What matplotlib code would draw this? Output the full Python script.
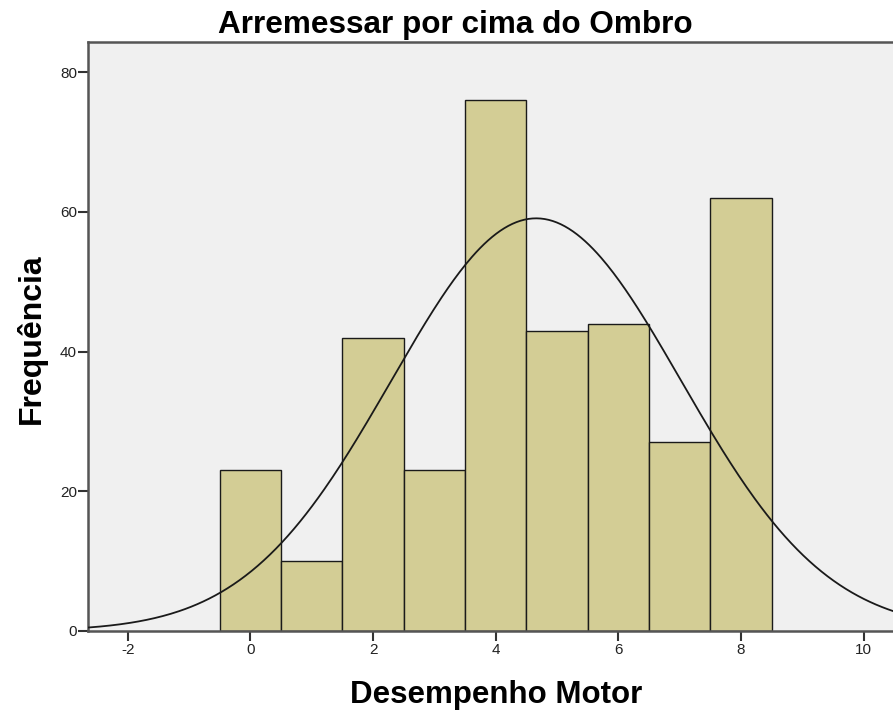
import numpy as np
import matplotlib.pyplot as plt

# dados do histograma
scores = [0, 1, 2, 3, 4, 5, 6, 7, 8]
counts = [23, 10, 42, 23, 76, 43, 44, 27, 62]
title = "Arremessar por cima do Ombro"
xlabel = "Desempenho Motor"
ylabel = "Frequência"
xticks = [-2, 0, 2, 4, 6, 8, 10]
yticks = [0, 20, 40, 60, 80]

plt.rcParams['font.family'] = ['Liberation Sans', 'DejaVu Sans']
plt.rcParams['axes.unicode_minus'] = False

fig = plt.figure(figsize=(8.93, 7.13), dpi=100)
ax = fig.add_axes([88 / 893, 1 - 631 / 713, 1 - 88 / 893, (631 - 42) / 713])
ax.set_facecolor('#f0f0f0')

ax.bar(scores, counts, width=1.0, color='#d3cd95', edgecolor='#1a1a1a', linewidth=1.0, zorder=2)

# curva normal ajustada
x = np.array(scores, dtype=float)
w = np.array(counts, dtype=float)
n = w.sum()
mu = (x * w).sum() / n
sd = np.sqrt(((x - mu) ** 2 * w).sum() / (n - 1))
xs = np.linspace(-2.65, 10.5, 400)
ys = n * 1.0 / (sd * np.sqrt(2 * np.pi)) * np.exp(-0.5 * ((xs - mu) / sd) ** 2)
ax.plot(xs, ys, color='#1a1a1a', linewidth=1.3, zorder=3)

ax.set_xlim(-2.65, 10.48)
ax.set_ylim(0, 84.3)
ax.set_xticks(xticks)
ax.set_yticks(yticks)
ax.tick_params(direction='out', length=7, width=1.5, color='#333333', labelcolor='#222222',
               labelsize=11, pad=2)
ax.tick_params(axis='y', pad=1)

for s in ['left', 'top', 'bottom']:
    ax.spines[s].set_color('#555555')
    ax.spines[s].set_linewidth(1.8)
ax.spines['right'].set_visible(False)

ax.set_xlabel(xlabel, fontsize=22.5, fontweight='bold')
ax.xaxis.set_label_coords(0.507, -0.1222)
ax.xaxis.label.set_va('baseline')
ax.set_ylabel(ylabel, fontsize=23, fontweight='bold')
ax.yaxis.set_label_coords(-0.0708, 0.4966)
ax.yaxis.label.set_va('center')
fig.text(455 / 893, 1 - 33 / 713, title, fontsize=22.7, fontweight='bold', ha='center', va='baseline')

fig.savefig('out.png', dpi=100, facecolor='white')
